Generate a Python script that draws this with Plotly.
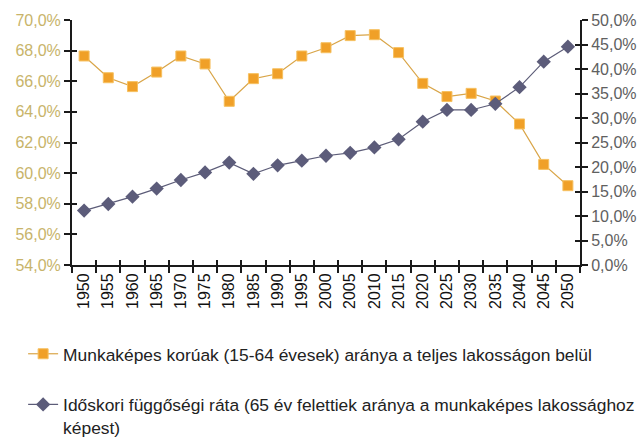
import plotly.graph_objects as go

years = ["1950", "1955", "1960", "1965", "1970", "1975", "1980", "1985", "1990", "1995",
         "2000", "2005", "2010", "2015", "2020", "2025", "2030", "2035", "2040", "2045", "2050"]

working_age_share = [67.65, 66.23, 65.65, 66.6, 67.65, 67.13, 64.69, 66.17, 66.49, 67.65,
                     68.19, 68.98, 69.04, 67.87, 65.86, 65.0, 65.21, 64.71, 63.21, 60.57, 59.18]

old_age_dependency = [11.1, 12.45, 13.95, 15.6, 17.35, 18.9, 20.9, 18.6, 20.35, 21.3,
                      22.3, 22.9, 24.0, 25.65, 29.25, 31.64, 31.64, 32.9, 36.3, 41.5, 44.55]

name_working = "Munkaképes korúak (15-64 évesek) aránya a teljes lakosságon belül"
name_old = "Időskori függőségi ráta (65 év felettiek aránya a munkaképes lakossághoz<br>képest)"

left_ticks = [54, 56, 58, 60, 62, 64, 66, 68, 70]
left_labels = ["54,0%", "56,0%", "58,0%", "60,0%", "62,0%", "64,0%", "66,0%", "68,0%", "70,0%"]
right_ticks = [0, 5, 10, 15, 20, 25, 30, 35, 40, 45, 50]
right_labels = ["0,0%", "5,0%", "10,0%", "15,0%", "20,0%", "25,0%", "30,0%", "35,0%",
                "40,0%", "45,0%", "50,0%"]

FONT = "Liberation Sans, Arial, sans-serif"

fig = go.Figure()
fig.add_trace(go.Scatter(
    x=years, y=working_age_share, name=name_working, mode="lines+markers",
    line=dict(color="#D9A548", width=1.2),
    marker=dict(symbol="square", size=10, color="#F0A028", line=dict(color="#F6C060", width=1)),
    yaxis="y", legendgroup="a", xaxis="x"))
fig.add_trace(go.Scatter(
    x=years, y=old_age_dependency, name=name_old, mode="lines+markers",
    line=dict(color="#5C5C78", width=1.2),
    marker=dict(symbol="diamond", size=11, color="#5C5C7A"),
    yaxis="y2", legendgroup="b", xaxis="x"))

axis_line = dict(showline=True, linecolor="#1a1a1a", linewidth=2)

fig.update_layout(
    width=642, height=438,
    margin=dict(l=72, r=62, t=20, b=173, autoexpand=False),
    paper_bgcolor="white", plot_bgcolor="white",
    font=dict(family=FONT, size=16, color="#222"),
    xaxis=dict(type="category", categoryorder="array", categoryarray=years,
               range=[-0.5, 20.5], tickson="boundaries", ticks="outside", ticklen=6,
               tickwidth=2, tickcolor="#1a1a1a", tickangle=-90, showgrid=False,
               automargin=False, tickfont=dict(size=16, color="#111"), **axis_line),
    xaxis2=dict(overlaying="x", range=[-0.5, 20.5], tick0=-0.5, dtick=1, ticks="inside",
                ticklen=5, tickwidth=2, tickcolor="#1a1a1a", showticklabels=False,
                showgrid=False, zeroline=False, showline=False, anchor="y"),
    yaxis=dict(range=[54, 70], tickvals=left_ticks, ticktext=left_labels,
               ticks="outside", ticklen=6, tickwidth=2, tickcolor="#1a1a1a",
               showgrid=False, zeroline=False, automargin=False,
               tickfont=dict(size=16, color="#C8B46A"), **axis_line),
    yaxis3=dict(overlaying="y", range=[54, 70], tickvals=left_ticks, ticks="inside",
                ticklen=5, tickwidth=2, tickcolor="#1a1a1a", showticklabels=False,
                showgrid=False, zeroline=False, showline=False, anchor="x"),
    yaxis2=dict(overlaying="y", side="right", range=[0, 50], tickvals=right_ticks,
                ticktext=right_labels, ticks="outside", ticklen=6, tickwidth=2,
                tickcolor="#1a1a1a", showgrid=False, zeroline=False, automargin=False,
                tickfont=dict(size=16, color="#606060"), anchor="x", **axis_line),
    yaxis4=dict(overlaying="y", side="right", range=[0, 50], tickvals=right_ticks,
                ticks="inside", ticklen=5, tickwidth=2, tickcolor="#1a1a1a",
                showticklabels=False, showgrid=False, zeroline=False, showline=False,
                anchor="x"),
    legend=dict(orientation="v", xref="container", yref="container",
                x=0.036, xanchor="left", y=0.233, yanchor="top",
                valign="top", tracegroupgap=25, font=dict(size=17.4, color="#222"),
                bgcolor="rgba(0,0,0,0)"),
    showlegend=True,
)

# invisible helper traces to activate the overlay tick axes
fig.add_trace(go.Scatter(x=[0], y=[None], xaxis="x2", yaxis="y3", showlegend=False,
                         hoverinfo="skip", mode="markers"))
fig.add_trace(go.Scatter(x=[0], y=[None], xaxis="x2", yaxis="y4", showlegend=False,
                         hoverinfo="skip", mode="markers"))

fig.write_html("out.html", config={"displayModeBar": False},
               post_script="document.body.style.margin='0';")
